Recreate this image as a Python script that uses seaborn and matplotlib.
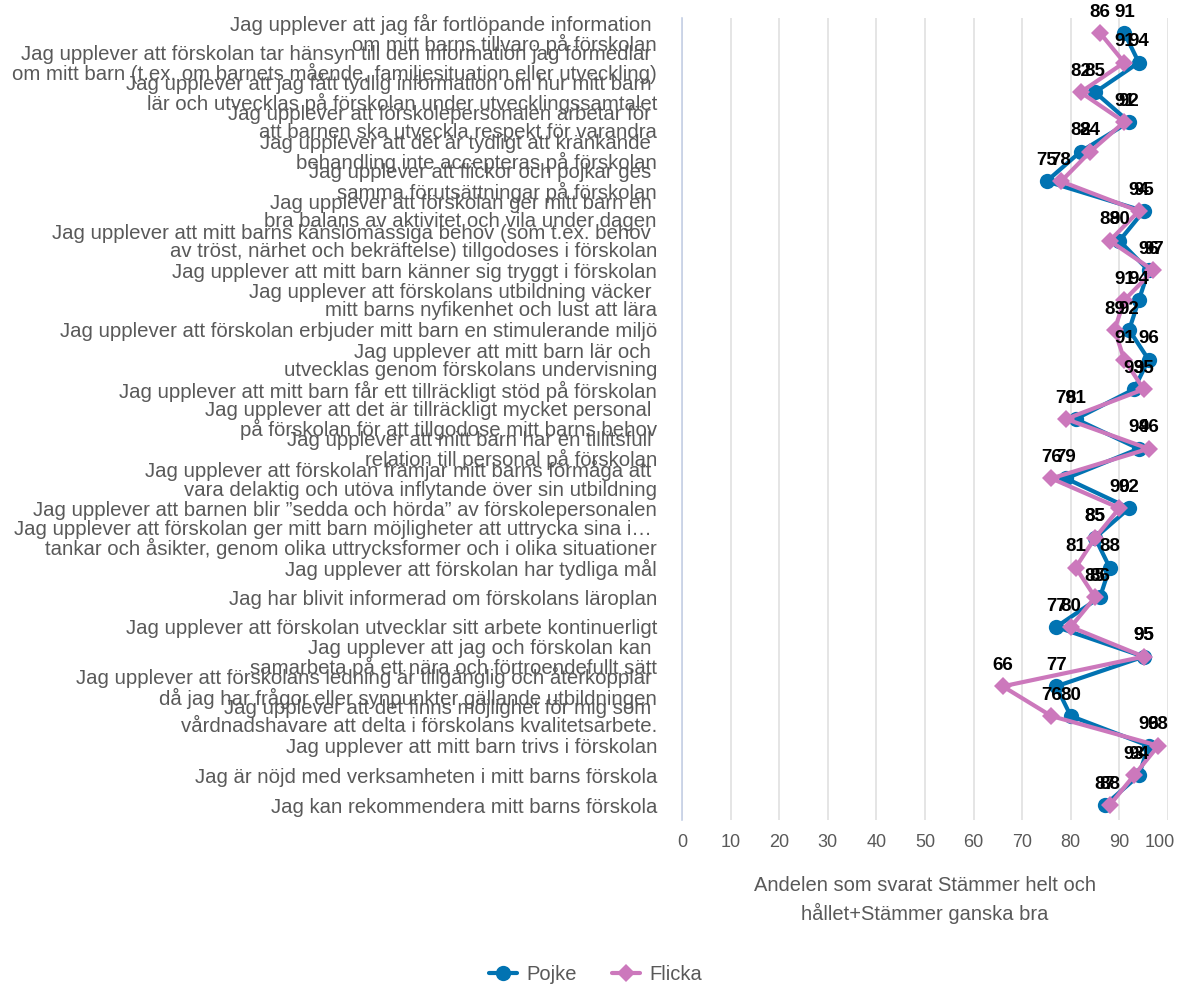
import matplotlib
matplotlib.use("Agg")
import matplotlib.pyplot as plt
import matplotlib.transforms as mtransforms
import seaborn as sns
import pandas as pd
import numpy as np
from matplotlib.ticker import FixedLocator

# Påståenden (y-axel), uppifrån och ned
questions = [
    "Jag upplever att jag får fortlöpande information \nom mitt barns tillvaro på förskolan",
    "Jag upplever att förskolan tar hänsyn till den information jag förmedlar \nom mitt barn (t.ex. om barnets mående, familjesituation eller utveckling)",
    "Jag upplever att jag fått tydlig information om hur mitt barn \nlär och utvecklas på förskolan under utvecklingssamtalet",
    "Jag upplever att förskolepersonalen arbetar för \natt barnen ska utveckla respekt för varandra",
    "Jag upplever att det är tydligt att kränkande \nbehandling inte accepteras på förskolan",
    "Jag upplever att flickor och pojkar ges \nsamma förutsättningar på förskolan",
    "Jag upplever att förskolan ger mitt barn en \nbra balans av aktivitet och vila under dagen",
    "Jag upplever att mitt barns känslomässiga behov (som t.ex. behov \nav tröst, närhet och bekräftelse) tillgodoses i förskolan",
    "Jag upplever att mitt barn känner sig tryggt i förskolan",
    "Jag upplever att förskolans utbildning väcker \nmitt barns nyfikenhet och lust att lära",
    "Jag upplever att förskolan erbjuder mitt barn en stimulerande miljö",
    "Jag upplever att mitt barn lär och \nutvecklas genom förskolans undervisning",
    "Jag upplever att mitt barn får ett tillräckligt stöd på förskolan",
    "Jag upplever att det är tillräckligt mycket personal \npå förskolan för att tillgodose mitt barns behov",
    "Jag upplever att mitt barn har en tillitsfull \nrelation till personal på förskolan",
    "Jag upplever att förskolan främjar mitt barns förmåga att \nvara delaktig och utöva inflytande över sin utbildning",
    "Jag upplever att barnen blir ”sedda och hörda” av förskolepersonalen",
    "Jag upplever att förskolan ger mitt barn möjligheter att uttrycka sina i… \ntankar och åsikter, genom olika uttrycksformer och i olika situationer",
    "Jag upplever att förskolan har tydliga mål",
    "Jag har blivit informerad om förskolans läroplan",
    "Jag upplever att förskolan utvecklar sitt arbete kontinuerligt",
    "Jag upplever att jag och förskolan kan \nsamarbeta på ett nära och förtroendefullt sätt",
    "Jag upplever att förskolans ledning är tillgänglig och återkopplar \ndå jag har frågor eller synpunkter gällande utbildningen",
    "Jag upplever att det finns möjlighet för mig som \nvårdnadshavare att delta i förskolans kvalitetsarbete.",
    "Jag upplever att mitt barn trivs i förskolan",
    "Jag är nöjd med verksamheten i mitt barns förskola",
    "Jag kan rekommendera mitt barns förskola",
]

pojke = [91, 94, 85, 92, 82, 75, 95, 90, 96, 94, 92, 96, 93, 81, 94, 79, 92, 85, 88, 86, 77, 95, 77, 80, 96, 94, 87]
flicka = [86, 91, 82, 91, 84, 78, 94, 88, 97, 91, 89, 91, 95, 79, 96, 76, 90, 85, 81, 85, 80, 95, 66, 76, 98, 93, 88]

series_names = ["Pojke", "Flicka"]
x_ticks = [0, 10, 20, 30, 40, 50, 60, 70, 80, 90, 100]
x_label = "Andelen som svarat Stämmer helt och\nhållet+Stämmer ganska bra"

colors = {"Pojke": "#0173b2", "Flicka": "#cc78bc"}
markers = {"Pojke": "o", "Flicka": "D"}

sns.set_theme(style="white")
plt.rcParams["font.family"] = ["Liberation Sans", "DejaVu Sans"]

n = len(questions)
pos = np.arange(n)
df = pd.concat([
    pd.DataFrame({"pos": pos, "Andel": pojke, "Kön": "Pojke"}),
    pd.DataFrame({"pos": pos, "Andel": flicka, "Kön": "Flicka"}),
], ignore_index=True)

fig = plt.figure(figsize=(11.77, 9.89), dpi=100)
ax = fig.add_axes([682 / 1177, 1 - 820 / 989, (1168 - 682) / 1177, (820 - 18) / 989])

sns.lineplot(data=df, x="Andel", y="pos", hue="Kön", style="Kön", hue_order=series_names,
             style_order=series_names, palette=colors, markers=markers, dashes=False,
             sort=False, orient="y", estimator=None, linewidth=3, ax=ax)

# storlek på markörerna
for line in ax.lines:
    if line.get_marker() == "o":
        line.set_markersize(11)
    elif line.get_marker() == "D":
        line.set_markersize(9)
    line.set_markeredgewidth(0)

# datavärden ovanför punkterna
for name, vals in [("Pojke", pojke), ("Flicka", flicka)]:
    for i, v in enumerate(vals):
        ax.annotate(str(v), (v, i), xytext=(0, 15), textcoords="offset points",
                    ha="center", va="center", fontsize=13.5, fontweight="bold", color="black")

ax.set_xlim(0, 100)
ax.set_ylim(n - 0.5, -0.5)
ax.set_xticks(x_ticks)
ax.set_yticks(pos)
ax.set_yticklabels(questions, fontsize=14.7, color="#595959", linespacing=0.95)
ax.yaxis.set_minor_locator(FixedLocator(np.arange(n + 1) - 0.5))
ax.tick_params(axis="y", which="major", length=0, pad=18)
ax.tick_params(axis="y", which="minor", length=12, width=1.2, color="#c5d0e6", direction="out")
ax.tick_params(axis="x", length=0, pad=10, labelsize=13, labelcolor="#595959")

# "100" flyttas lite åt vänster så att den inte klipps
last = ax.get_xticklabels()[-1]
last.set_transform(last.get_transform() + mtransforms.ScaledTranslation(-8 / 100, 0, fig.dpi_scale_trans))

ax.set_xlabel(x_label, fontsize=14.5, color="#595959", labelpad=18, linespacing=1.45)
ax.set_ylabel("")
ax.grid(axis="x", color="#e0e0e0", linewidth=1.2)
ax.grid(axis="y", visible=False)
ax.set_axisbelow(True)

for side in ["top", "right", "bottom"]:
    ax.spines[side].set_visible(False)
ax.spines["left"].set_color("#c5d0e6")
ax.spines["left"].set_linewidth(1.2)

handles, labels = ax.get_legend_handles_labels()
ax.get_legend().remove()
fig.legend(handles, labels, loc="center", bbox_to_anchor=(0.506, 0.015), ncol=2,
           frameon=False, fontsize=14.5, handlelength=1.4, handletextpad=0.5,
           columnspacing=1.7, labelcolor="#595959")

fig.savefig("out.png", dpi=100)
